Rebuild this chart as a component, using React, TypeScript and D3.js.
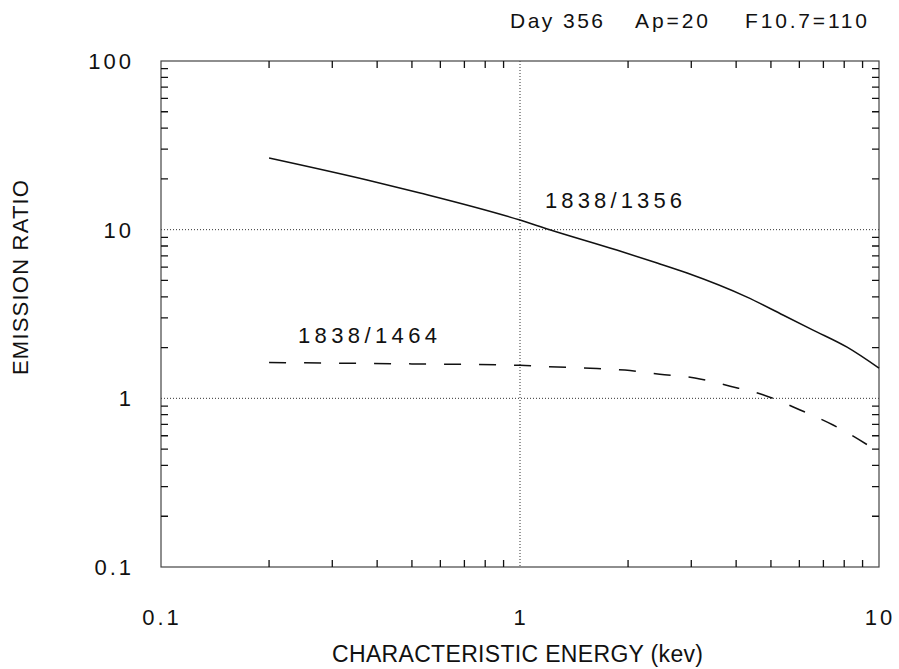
import React from "react";
import * as d3 from "d3";

const solidX = [0.2, 0.375, 0.527, 1, 1.21, 1.86, 2.41, 2.92, 4.29, 5.4, 6.55, 8.15, 10];
const solidY = [26.6, 19.7, 16.5, 11.4, 10.0, 7.57, 6.34, 5.53, 3.98, 3.12, 2.54, 2.01, 1.51];
const dashX = [0.2, 0.5, 1, 1.2, 1.57, 1.96, 2.45, 3.07, 3.85, 4.75, 6.03, 7.45, 10];
const dashY = [1.63, 1.6, 1.57, 1.54, 1.51, 1.47, 1.39, 1.32, 1.18, 1.05, 0.853, 0.695, 0.48];
const xTicks = [0.1, 1, 10];
const xTickLabels = ["0.1", "1", "10"];
const yTicks = [0.1, 1, 10, 100];
const yTickLabels = ["0.1", "1", "10", "100"];
const xGrid = [1];
const yGrid = [1, 10];

const L = 161, R = 879, T = 61, B = 567;
const FONT = "'Liberation Sans', Arial, Helvetica, sans-serif";

export default function App() {
  const x = d3.scaleLog().domain([0.1, 10]).range([L, R]);
  const y = d3.scaleLog().domain([0.1, 100]).range([B, T]);
  const line = d3
    .line<[number, number]>()
    .x((d) => x(d[0]))
    .y((d) => y(d[1]))
    .curve(d3.curveMonotoneX);
  const solid = solidX.map((v, i) => [v, solidY[i]] as [number, number]);
  const dashed = dashX.map((v, i) => [v, dashY[i]] as [number, number]);

  const minorX: number[] = [];
  [0.1, 1].forEach((dec) => {
    for (let k = 2; k <= 9; k++) minorX.push(dec * k);
  });
  const minorY: number[] = [];
  [0.1, 1, 10].forEach((dec) => {
    for (let k = 2; k <= 9; k++) minorY.push(dec * k);
  });

  let tickPath = "";
  minorX.forEach((v) => {
    const px = x(v);
    tickPath += `M${px},${B}V${B - 7}M${px},${T}V${T + 7}`;
  });
  minorY.forEach((v) => {
    const py = y(v);
    tickPath += `M${L},${py}H${L + 7}M${R},${py}H${R - 7}`;
  });

  return (
    <svg
      width={899}
      height={669}
      style={{ position: "absolute", left: 0, top: 0, background: "#fff" }}
      fontFamily={FONT}
    >
      <rect x={0} y={0} width={899} height={669} fill="#fff" />
      {/* header */}
      <text x={510} y={28} fontSize={21} textLength={93} lengthAdjust="spacing" fill="#111">Day 356</text>
      <text x={635} y={28} fontSize={21} textLength={73} lengthAdjust="spacing" fill="#111">Ap=20</text>
      <text x={745} y={28} fontSize={21} textLength={122} lengthAdjust="spacing" fill="#111">F10.7=110</text>

      {/* gridlines */}
      {yGrid.map((g) => (
        <line key={"yg" + g} x1={L} x2={R} y1={y(g)} y2={y(g)} stroke="#333" strokeWidth={1} strokeDasharray="1,2" />
      ))}
      {xGrid.map((g) => (
        <line key={"xg" + g} x1={x(g)} x2={x(g)} y1={T} y2={B} stroke="#333" strokeWidth={1} strokeDasharray="1,2" />
      ))}

      {/* frame */}
      <rect x={L} y={T} width={R - L} height={B - T} fill="none" stroke="#444" strokeWidth={1.2} />

      {/* minor ticks */}
      <path d={tickPath} fill="none" stroke="#111" strokeWidth={1.3} />

      {/* tick labels */}
      {yTicks.map((v, i) => (
        <text key={"yl" + v} x={134} y={y(v) + 8} fontSize={22} textAnchor="end" letterSpacing={3} fill="#111">
          {yTickLabels[i]}
        </text>
      ))}
      {xTicks.map((v, i) => (
        <text key={"xl" + v} x={x(v) + 1} y={625} fontSize={22} textAnchor="middle" letterSpacing={3} fill="#111">
          {xTickLabels[i]}
        </text>
      ))}

      {/* axis titles */}
      <text x={332} y={662} fontSize={23} textLength={371} lengthAdjust="spacing" fill="#111">
        CHARACTERISTIC ENERGY (kev)
      </text>
      <text
        transform="translate(28,375) rotate(-90)"
        x={0}
        y={0}
        fontSize={22}
        textLength={195}
        lengthAdjust="spacing"
        fill="#111"
      >
        EMISSION RATIO
      </text>

      {/* curves */}
      <path d={line(solid) || ""} fill="none" stroke="#111" strokeWidth={1.5} />
      <path d={line(dashed) || ""} fill="none" stroke="#111" strokeWidth={1.5} strokeDasharray="17,18" />

      {/* annotations */}
      <text x={545} y={208} fontSize={22} textLength={137} lengthAdjust="spacing" fill="#111">1838/1356</text>
      <text x={298} y={343} fontSize={22} textLength={139} lengthAdjust="spacing" fill="#111">1838/1464</text>
    </svg>
  );
}
